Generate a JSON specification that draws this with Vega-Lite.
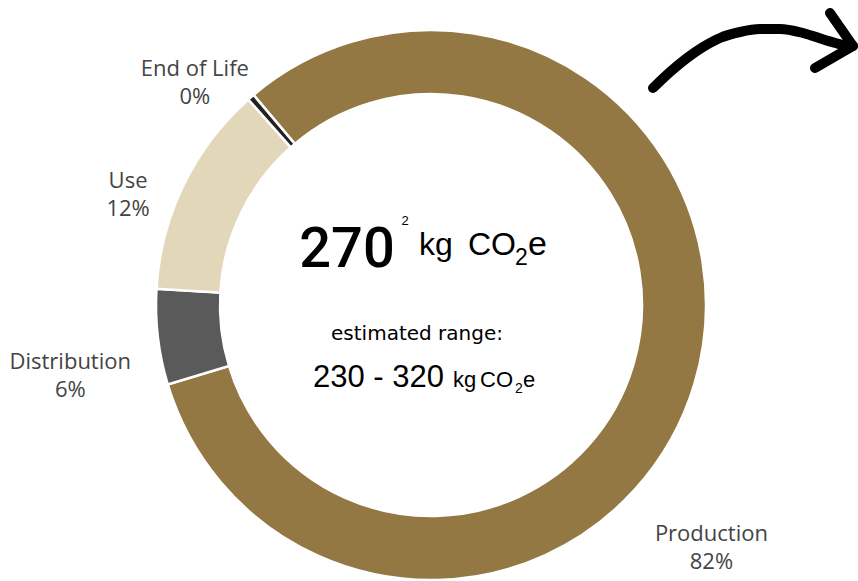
{
  "$schema": "https://vega.github.io/schema/vega-lite/v6.json",
  "width": 854,
  "height": 552,
  "autosize": "none",
  "padding": {"left": 4, "top": 29, "right": 0, "bottom": 0},
  "background": "white",
  "config": {"view": {"stroke": null}},
  "datasets": {
    "stages": [
      {"stage": "Production", "value": 81.5, "pct": "82%", "rank": 1},
      {"stage": "Distribution", "value": 5.6, "pct": "6%", "rank": 2},
      {"stage": "Use", "value": 12.5, "pct": "12%", "rank": 3},
      {"stage": "End of Life", "value": 0.4, "pct": "0%", "rank": 4}
    ],
    "arrow": [
      {"part": "curve", "i": 1, "x": 222, "y": 217},
      {"part": "curve", "i": 2, "x": 239, "y": 233},
      {"part": "curve", "i": 3, "x": 256, "y": 247},
      {"part": "curve", "i": 4, "x": 272, "y": 258},
      {"part": "curve", "i": 5, "x": 289, "y": 267},
      {"part": "curve", "i": 6, "x": 309, "y": 273},
      {"part": "curve", "i": 7, "x": 329, "y": 276},
      {"part": "curve", "i": 8, "x": 349, "y": 276},
      {"part": "curve", "i": 9, "x": 372, "y": 272},
      {"part": "curve", "i": 10, "x": 394, "y": 265},
      {"part": "curve", "i": 11, "x": 419, "y": 258},
      {"part": "upper", "i": 1, "x": 399, "y": 292},
      {"part": "upper", "i": 2, "x": 422, "y": 259},
      {"part": "lower", "i": 1, "x": 384, "y": 237},
      {"part": "lower", "i": 2, "x": 422, "y": 259}
    ]
  },
  "layer": [
    {
      "data": {"name": "stages"},
      "transform": [
        {"stack": "value", "groupby": [], "sort": [{"field": "rank", "order": "ascending"}], "as": ["v0", "v1"]}
      ],
      "mark": {"type": "arc", "outerRadius": 275, "innerRadius": 211, "stroke": "white", "strokeWidth": 2.5},
      "encoding": {
        "theta": {"field": "v0", "type": "quantitative", "scale": {"domain": [0, 100], "range": [5.5816, 11.8648]}},
        "theta2": {"field": "v1"},
        "color": {
          "field": "stage",
          "type": "nominal",
          "scale": {"domain": ["Production", "Distribution", "Use", "End of Life"], "range": ["#937843", "#5a5a5a", "#e3d7b9", "#222222"]},
          "legend": null
        }
      }
    },
    {
      "data": {"name": "stages"},
      "transform": [
        {"stack": "value", "groupby": [], "sort": [{"field": "rank", "order": "ascending"}], "as": ["v0", "v1"]},
        {"calculate": "(datum.v0 + datum.v1) / 2", "as": "mid"},
        {"calculate": "datum.stage + '\\n' + datum.pct", "as": "label"},
        {"filter": "datum.stage === 'Production'"}
      ],
      "mark": {"type": "text", "radius": 330, "dx": -36, "dy": 135, "lineBreak": "\n", "font": "Open Sans", "fontSize": 22, "lineHeight": 28, "color": "#444444", "align": "center", "baseline": "middle"},
      "encoding": {
        "theta": {"field": "mid", "type": "quantitative", "stack": null, "scale": {"domain": [0, 100], "range": [5.5816, 11.8648]}},
        "text": {"field": "label"}
      }
    },
    {
      "data": {"name": "stages"},
      "transform": [
        {"stack": "value", "groupby": [], "sort": [{"field": "rank", "order": "ascending"}], "as": ["v0", "v1"]},
        {"calculate": "(datum.v0 + datum.v1) / 2", "as": "mid"},
        {"calculate": "datum.stage + '\\n' + datum.pct", "as": "label"},
        {"filter": "datum.stage === 'Distribution'"}
      ],
      "mark": {"type": "text", "radius": 330, "dx": -33, "dy": 18, "lineBreak": "\n", "font": "Open Sans", "fontSize": 22, "lineHeight": 28, "color": "#444444", "align": "center", "baseline": "middle"},
      "encoding": {
        "theta": {"field": "mid", "type": "quantitative", "stack": null},
        "text": {"field": "label"}
      }
    },
    {
      "data": {"name": "stages"},
      "transform": [
        {"stack": "value", "groupby": [], "sort": [{"field": "rank", "order": "ascending"}], "as": ["v0", "v1"]},
        {"calculate": "(datum.v0 + datum.v1) / 2", "as": "mid"},
        {"calculate": "datum.stage + '\\n' + datum.pct", "as": "label"},
        {"filter": "datum.stage === 'Use'"}
      ],
      "mark": {"type": "text", "radius": 330, "dx": -6, "dy": 20, "lineBreak": "\n", "font": "Open Sans", "fontSize": 22, "lineHeight": 28, "color": "#444444", "align": "center", "baseline": "middle"},
      "encoding": {
        "theta": {"field": "mid", "type": "quantitative", "stack": null},
        "text": {"field": "label"}
      }
    },
    {
      "data": {"name": "stages"},
      "transform": [
        {"stack": "value", "groupby": [], "sort": [{"field": "rank", "order": "ascending"}], "as": ["v0", "v1"]},
        {"calculate": "(datum.v0 + datum.v1) / 2", "as": "mid"},
        {"calculate": "datum.stage + '\\n' + datum.pct", "as": "label"},
        {"filter": "datum.stage === 'End of Life'"}
      ],
      "mark": {"type": "text", "radius": 330, "dx": -20, "dy": 13, "lineBreak": "\n", "font": "Open Sans", "fontSize": 22, "lineHeight": 28, "color": "#444444", "align": "center", "baseline": "middle"},
      "encoding": {
        "theta": {"field": "mid", "type": "quantitative", "stack": null},
        "text": {"field": "label"}
      }
    },
    {
      "data": {"name": "arrow"},
      "mark": {"type": "line", "color": "black", "strokeWidth": 10, "strokeCap": "round", "strokeJoin": "round", "interpolate": "monotone"},
      "encoding": {
        "x": {"field": "x", "type": "quantitative", "scale": {"domain": [-427, 427], "nice": false, "zero": false}, "axis": null},
        "y": {"field": "y", "type": "quantitative", "scale": {"domain": [-276, 276], "nice": false, "zero": false}, "axis": null},
        "detail": {"field": "part"},
        "order": {"field": "i"}
      }
    },
    {
      "data": {"values": [{"t": "270"}]},
      "mark": {"type": "text", "font": "Roboto", "fontWeight": 500, "fontSize": 56, "color": "black", "align": "center", "baseline": "alphabetic", "dx": -84, "dy": -38},
      "encoding": {"text": {"field": "t"}}
    },
    {
      "data": {"values": [{"t": "2"}]},
      "mark": {"type": "text", "font": "Liberation Sans", "fontSize": 13, "color": "black", "align": "center", "baseline": "alphabetic", "dx": -26, "dy": -80},
      "encoding": {"text": {"field": "t"}}
    },
    {
      "data": {"values": [{"t": "kg"}]},
      "mark": {"type": "text", "font": "Liberation Sans", "fontSize": 32, "color": "black", "align": "left", "baseline": "alphabetic", "dx": -12, "dy": -50},
      "encoding": {"text": {"field": "t"}}
    },
    {
      "data": {"values": [{"t": "CO"}]},
      "mark": {"type": "text", "font": "Liberation Sans", "fontSize": 32, "color": "black", "align": "left", "baseline": "alphabetic", "dx": 37, "dy": -50},
      "encoding": {"text": {"field": "t"}}
    },
    {
      "data": {"values": [{"t": "2"}]},
      "mark": {"type": "text", "font": "Liberation Sans", "fontSize": 23, "color": "black", "align": "left", "baseline": "alphabetic", "dx": 84, "dy": -40},
      "encoding": {"text": {"field": "t"}}
    },
    {
      "data": {"values": [{"t": "e"}]},
      "mark": {"type": "text", "font": "Liberation Sans", "fontSize": 34, "color": "black", "align": "left", "baseline": "alphabetic", "dx": 97, "dy": -50},
      "encoding": {"text": {"field": "t"}}
    },
    {
      "data": {"values": [{"t": "estimated range:"}]},
      "mark": {"type": "text", "font": "DejaVu Sans", "fontSize": 20, "color": "black", "align": "center", "baseline": "alphabetic", "dx": -14, "dy": 35},
      "encoding": {"text": {"field": "t"}}
    },
    {
      "data": {"values": [{"t": "230 - 320"}]},
      "mark": {"type": "text", "font": "Liberation Sans", "fontSize": 31, "color": "black", "align": "left", "baseline": "alphabetic", "dx": -118, "dy": 82},
      "encoding": {"text": {"field": "t"}}
    },
    {
      "data": {"values": [{"t": "kg"}]},
      "mark": {"type": "text", "font": "Liberation Sans", "fontSize": 22, "color": "black", "align": "left", "baseline": "alphabetic", "dx": 22, "dy": 82},
      "encoding": {"text": {"field": "t"}}
    },
    {
      "data": {"values": [{"t": "CO"}]},
      "mark": {"type": "text", "font": "Liberation Sans", "fontSize": 22, "color": "black", "align": "left", "baseline": "alphabetic", "dx": 49, "dy": 82},
      "encoding": {"text": {"field": "t"}}
    },
    {
      "data": {"values": [{"t": "2"}]},
      "mark": {"type": "text", "font": "Liberation Sans", "fontSize": 14, "color": "black", "align": "left", "baseline": "alphabetic", "dx": 84, "dy": 88},
      "encoding": {"text": {"field": "t"}}
    },
    {
      "data": {"values": [{"t": "e"}]},
      "mark": {"type": "text", "font": "Liberation Sans", "fontSize": 22, "color": "black", "align": "left", "baseline": "alphabetic", "dx": 92, "dy": 82},
      "encoding": {"text": {"field": "t"}}
    }
  ]
}
